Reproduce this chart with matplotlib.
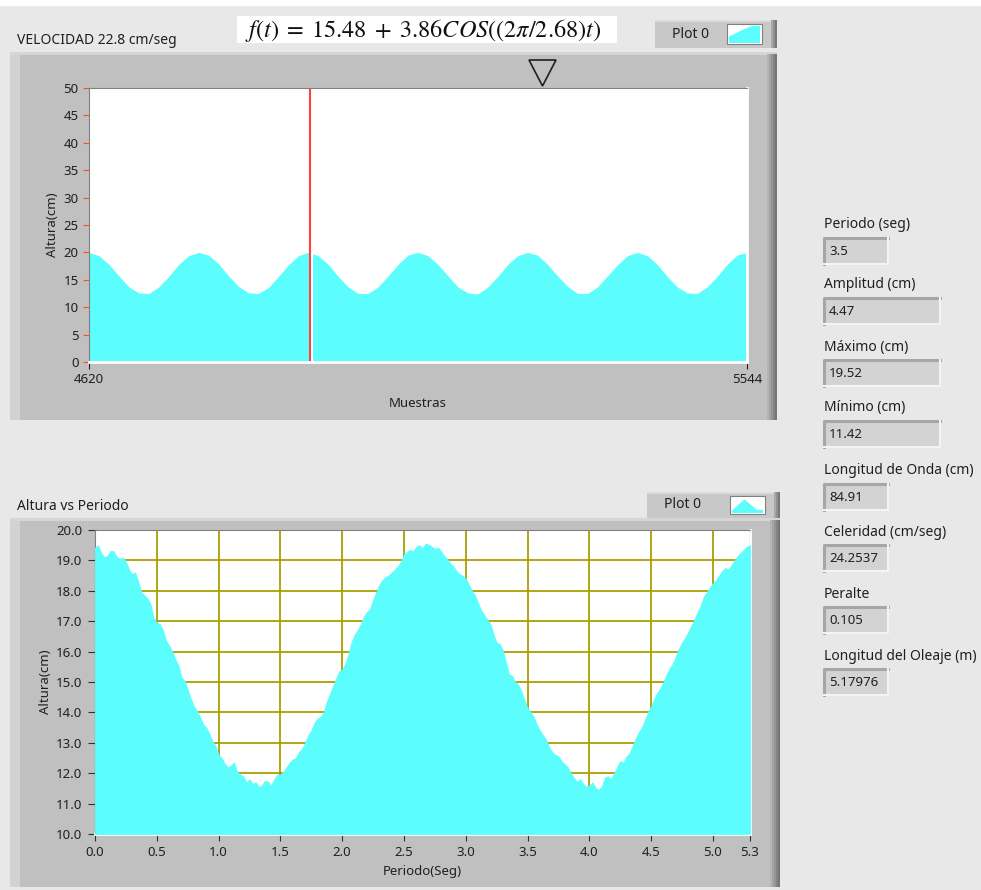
import numpy as np
import matplotlib.pyplot as plt
from matplotlib.patches import Rectangle, Polygon

plt.rcParams['font.family'] = ['Noto Sans', 'DejaVu Sans']
plt.rcParams['mathtext.fontset'] = 'stix'

# ===================== DATOS =====================
# grafico superior: altura (cm) vs muestras, cada 14 muestras
muestras = np.arange(4620, 5545, 14)
altura_muestras = [
    20.0, 19.4, 17.8, 15.7, 13.7, 12.6, 12.5, 13.7, 15.6, 17.8, 19.4,
    20.0, 19.5, 17.9, 15.7, 13.8, 12.6, 12.5, 13.6, 15.6, 17.7, 19.4,
    20.0, 19.4, 17.8, 15.6, 13.7, 12.5, 12.5, 13.7, 15.7, 17.8, 19.5,
    20.0, 19.4, 17.8, 15.7, 13.7, 12.6, 12.4, 13.7, 15.6, 17.8, 19.4,
    20.0, 19.5, 17.8, 15.7, 13.8, 12.5, 12.5, 13.7, 15.7, 17.7, 19.4,
    20.0, 19.4, 17.8, 15.6, 13.7, 12.6, 12.5, 13.7, 15.6, 17.8, 19.5,
    20.0,
]
cursor_muestra = 4930

# grafico inferior: altura (cm) vs periodo (seg), cada 0.025 s
periodo = np.round(np.arange(213) * 0.025, 3)
altura_periodo = [
    19.42, 19.50, 19.25, 19.10, 19.15, 19.32, 19.30, 19.12,
    19.05, 19.10, 18.95, 18.70, 18.55, 18.60, 18.30, 17.95,
    17.85, 17.75, 17.55, 17.10, 16.95, 16.90, 16.70, 16.35,
    16.20, 16.00, 15.75, 15.55, 15.15, 15.05, 14.75, 14.45,
    14.20, 14.05, 13.85, 13.60, 13.50, 13.30, 13.05, 12.90,
    12.60, 12.50, 12.30, 12.20, 12.25, 12.35, 12.05, 11.95,
    11.90, 11.70, 11.80, 11.65, 11.70, 11.55, 11.60, 11.75,
    11.72, 11.60, 11.80, 11.95, 11.95, 12.05, 12.20, 12.35,
    12.45, 12.50, 12.70, 12.80, 13.00, 13.25, 13.40, 13.65,
    13.80, 13.85, 14.00, 14.35, 14.60, 14.85, 15.10, 15.35,
    15.40, 15.60, 15.90, 16.30, 16.55, 16.70, 16.90, 17.15,
    17.30, 17.40, 17.70, 17.95, 18.20, 18.35, 18.45, 18.50,
    18.60, 18.70, 18.80, 18.95, 19.20, 19.28, 19.35, 19.30,
    19.45, 19.50, 19.40, 19.55, 19.52, 19.45, 19.38, 19.42,
    19.30, 19.15, 19.05, 18.90, 18.80, 18.65, 18.55, 18.50,
    18.40, 18.20, 18.00, 17.85, 17.60, 17.35, 17.20, 17.05,
    16.90, 16.55, 16.30, 16.25, 16.05, 15.65, 15.25, 15.20,
    15.00, 14.90, 14.70, 14.40, 14.15, 14.00, 13.85, 13.60,
    13.40, 13.25, 13.10, 12.85, 12.70, 12.60, 12.55, 12.40,
    12.30, 12.20, 12.00, 11.85, 11.72, 11.80, 11.65, 11.55,
    11.60, 11.70, 11.52, 11.45, 11.55, 11.85, 11.90, 11.80,
    12.00, 12.20, 12.40, 12.35, 12.55, 12.65, 12.90, 13.15,
    13.35, 13.50, 13.75, 14.00, 14.20, 14.45, 14.65, 14.80,
    15.00, 15.25, 15.45, 15.60, 15.85, 16.10, 16.30, 16.45,
    16.65, 16.85, 17.05, 17.30, 17.50, 17.80, 17.95, 18.10,
    18.25, 18.35, 18.50, 18.65, 18.75, 18.70, 18.85, 19.00,
    19.15, 19.25, 19.35, 19.45, 19.50,
]
ticks_periodo = [0.0, 0.5, 1.0, 1.5, 2.0, 2.5, 3.0, 3.5, 4.0, 4.5, 5.0, 5.3]

# indicadores
indicadores = ['Periodo (seg)', 'Amplitud (cm)', 'Máximo (cm)', 'Mínimo (cm)',
               'Longitud de Onda (cm)', 'Celeridad (cm/seg)', 'Peralte',
               'Longitud del Oleaje (m)']
valores = ['3.5', '4.47', '19.52', '11.42', '84.91', '24.2537', '0.105', '5.17976']
anchos = [64, 116, 116, 116, 64, 64, 64, 64]

CIAN = '#5bfdfd'
GRIS = '#c0c0c0'
FONDO = '#e8e8e8'
W, H = 981, 890


def caja(x0, y0, x1, y1):
    # pixeles -> fraccion de figura
    return [x0 / W, 1 - y1 / H, (x1 - x0) / W, (y1 - y0) / H]


fig = plt.figure(figsize=(W / 100, H / 100), dpi=100, facecolor=FONDO)

# ===================== FONDO / MARCOS =====================
bg = fig.add_axes([0, 0, 1, 1], zorder=-5)
bg.set_xlim(0, W)
bg.set_ylim(H, 0)
bg.axis('off')
bg.add_patch(Rectangle((0, 0), W, 5, color='white'))


def marco(x0, y0, x1, y1):
    bg.add_patch(Rectangle((x0, y0), x1 - x0, y1 - y0, color=GRIS, lw=0))
    bg.add_patch(Rectangle((x0, y0), 10, y1 - y0, color='#d2d2d2', lw=0))
    bg.add_patch(Rectangle((x0, y0), x1 - x0, 3, color='#d6d6d6', lw=0))
    for i, c in enumerate(['#b4b4b4', '#a4a4a4', '#949494', '#848484', '#747474']):
        bg.add_patch(Rectangle((x1 - 10 + i * 2, y0 + 2), 2, y1 - y0 - 2, color=c, lw=0))


def leyenda(x0, y0, x1, y1, forma):
    bg.add_patch(Rectangle((x0, y0), x1 - x0, y1 - y0, color='#c8c8c8', lw=0))
    bg.add_patch(Rectangle((x0, y0), x1 - x0, 2, color='#dcdcdc', lw=0))
    for i, c in enumerate(['#a8a8a8', '#909090', '#787878']):
        bg.add_patch(Rectangle((x1 - 6 + i * 2, y0), 2, y1 - y0, color=c, lw=0))
    bg.text(x0 + 17, (y0 + y1) / 2, 'Plot 0', fontsize=10, va='center', ha='left', color='#202020')
    sx0, sx1 = x1 - 50, x1 - 15
    bg.add_patch(Rectangle((sx0, y0 + 4), sx1 - sx0, y1 - y0 - 8, facecolor='white',
                           edgecolor='#808080', lw=0.8))
    pts = [(sx0 + 2 + fx * (sx1 - sx0 - 4), y0 + 5 + fy * (y1 - y0 - 10)) for fx, fy in forma]
    bg.add_patch(Polygon(pts, color=CIAN, lw=0))


marco(10, 52, 777, 420)
marco(10, 518, 780, 887)

leyenda(655, 20, 777, 48, [(0, 1), (0, 0.65), (0.4, 0.3), (0.75, 0.05), (1, 0.05), (1, 1)])
leyenda(647, 492, 780, 518, [(0, 1), (0, 0.85), (0.4, 0.15), (0.8, 0.8), (1, 0.8), (1, 1)])

bg.text(17, 40, 'VELOCIDAD 22.8 cm/seg', fontsize=10, va='center', color='#202020')
bg.text(17, 506, 'Altura vs Periodo', fontsize=10, va='center', color='#202020')

# formula
bg.add_patch(Rectangle((237, 16), 380, 27, color='white', lw=0))
bg.text(245, 30, r'$f(t)\;=\;15.48\;+\;3.86COS((2\pi/2.68)t)$', fontsize=17.5,
        va='center', ha='left', color='#101010')

# cursor triangulo
bg.add_patch(Polygon([(529, 60), (556, 60), (542.5, 86)], facecolor='none',
                     edgecolor='#202020', lw=1.2))

# indicadores
y_lab = [225, 285, 347, 408, 471, 532, 594, 656]
for lab, val, ancho, yl in zip(indicadores, valores, anchos, y_lab):
    bg.text(824, yl, lab, fontsize=10, va='center', color='#202020')
    yb = yl + 13
    bg.add_patch(Rectangle((824, yb), ancho, 26, color='#d3d3d3', lw=0))
    bg.plot([824, 824, 824 + ancho], [yb + 26, yb, yb], color='#a6a6a6', lw=2.2)
    bg.plot([824, 824 + ancho, 824 + ancho], [yb + 26, yb + 26, yb], color='#f4f4f4', lw=1.5)
    bg.text(829, yb + 13.5, val, fontsize=9.5, va='center', color='#202020')

# ===================== GRAFICO SUPERIOR =====================
ax1 = fig.add_axes(caja(89, 88, 747, 362))
ax1.fill_between(muestras, 0, altura_muestras, color=CIAN, lw=0)
ax1.axvline(cursor_muestra + 2.5, color='white', lw=1.5)
ax1.axvline(cursor_muestra, color='#ff4040', lw=1.5)
ax1.set_xlim(4620, 5544)
ax1.set_ylim(0, 50)
ax1.set_yticks(range(0, 51, 5))
ax1.set_xticks([4620, 5544])
ax1.tick_params(axis='y', colors='#ff5020', labelcolor='#202020', length=4, labelsize=9.5)
ax1.tick_params(axis='x', direction='out', length=5, color='#202020', labelcolor='#202020',
                labelsize=9.5, pad=3)
ax1.set_ylabel('Altura(cm)', fontsize=9.5, color='#202020', labelpad=3)
ax1.set_xlabel('Muestras', fontsize=9.5, color='#202020', labelpad=8)
for s in ['left', 'top']:
    ax1.spines[s].set_color('#808080')
for s in ['right', 'bottom']:
    ax1.spines[s].set_color('white')
    ax1.spines[s].set_linewidth(2)

# ===================== GRAFICO INFERIOR =====================
ax2 = fig.add_axes(caja(95, 530, 750, 834))
ax2.fill_between(periodo, 10, altura_periodo, color=CIAN, lw=0.6, edgecolor=CIAN, zorder=3)
ax2.set_xlim(0, 5.3)
ax2.set_ylim(10, 20)
ax2.set_xticks(ticks_periodo)
ax2.set_xticklabels([f'{v:.1f}' for v in ticks_periodo])
ax2.set_yticks(np.arange(10, 20.5, 1.0))
ax2.set_yticklabels([f'{v:.1f}' for v in np.arange(10, 20.5, 1.0)])
ax2.grid(True, color='#aaa000', lw=1.3, zorder=1)
ax2.set_axisbelow(True)
ax2.tick_params(colors='#303030', labelcolor='#202020', length=5, labelsize=9.5, pad=4)
ax2.set_ylabel('Altura(cm)', fontsize=9.5, color='#202020', labelpad=3)
ax2.set_xlabel('Periodo(Seg)', fontsize=9.5, color='#202020', labelpad=4)
for s in ['left', 'top']:
    ax2.spines[s].set_color('#808080')
for s in ['right', 'bottom']:
    ax2.spines[s].set_color('white')
    ax2.spines[s].set_linewidth(2)

fig.savefig('out.png', dpi=100, facecolor=FONDO)
